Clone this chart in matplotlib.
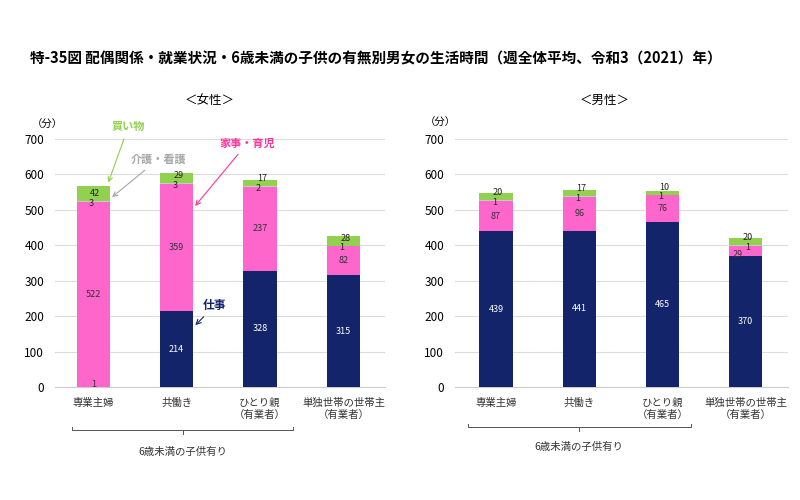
import numpy as np
import matplotlib.pyplot as plt

plt.rcParams['font.family'] = ['Noto Sans CJK JP', 'DejaVu Sans']

cats = ['専業主婦', '共働き', 'ひとり親\n（有業者）', '単独世帯の世帯主\n（有業者）']

# 女性
f_work = [1, 214, 328, 315]
f_house = [522, 359, 237, 82]
f_care = [3, 3, 2, 1]
f_shop = [42, 29, 17, 28]

# 男性
m_work = [439, 441, 465, 370]
m_house = [87, 96, 76, 29]
m_care = [1, 1, 1, 1]
m_shop = [20, 17, 10, 20]

c_work = '#14246b'
c_house = '#ff66cc'
c_care = '#c8c8c8'
c_shop = '#92d050'


def draw(ax, work, house, care, shop, xlim):
    x = np.arange(len(cats))
    w = 0.4
    work = np.array(work)
    house = np.array(house)
    care = np.array(care)
    shop = np.array(shop)
    ax.bar(x, work, w, color=c_work, zorder=3)
    ax.bar(x, house, w, bottom=work, color=c_house, zorder=3)
    ax.bar(x, care, w, bottom=work + house, color=c_care, zorder=3)
    ax.bar(x, shop, w, bottom=work + house + care, color=c_shop, zorder=3)
    fs = 6.5
    for i in x:
        if work[i] > 20:
            ax.text(i, work[i] / 2, str(work[i]), ha='center', va='center',
                    color='white', fontsize=fs, zorder=4)
        else:
            ax.text(i, 6, str(work[i]), ha='center', va='center',
                    color='#333333', fontsize=fs, zorder=4)
        cb = work[i] + house[i]
        small = house[i] < 40
        hx = i - 0.1 if small else i
        ax.text(hx, min(work[i] + house[i] / 2, cb - 24), str(house[i]), ha='center',
                va='center', color='#333333', fontsize=fs, zorder=4)
        cx = i + 0.03 if small else i - 0.02
        ax.text(cx, cb - 4, str(care[i]), ha='center', va='center',
                color='#222222', fontsize=fs, zorder=4)
        sb = cb + care[i]
        ax.text(i + 0.02, max(sb + shop[i] / 2, sb + 21), str(shop[i]), ha='center',
                va='center', color='#222222', fontsize=fs, zorder=4)
    ax.set_ylim(0, 700)
    ax.set_xlim(*xlim)
    ax.set_yticks(range(0, 701, 100))
    ax.set_xticks(x)
    ax.set_xticklabels(cats, fontsize=7.5, color='#333333')
    ax.tick_params(axis='both', length=0, pad=8)
    ax.tick_params(axis='y', labelsize=8.5)
    ax.grid(axis='y', color='#dddddd', linewidth=0.8, zorder=0)
    for s in ['top', 'right', 'left']:
        ax.spines[s].set_visible(False)
    ax.spines['bottom'].set_color('#cccccc')


fig = plt.figure(figsize=(8, 5), dpi=100)
ax1 = fig.add_axes([0.069, 0.226, 0.4125, 0.496])
ax2 = fig.add_axes([0.569, 0.226, 0.416, 0.496])

draw(ax1, f_work, f_house, f_care, f_shop, (-0.456, 3.5))
draw(ax2, m_work, m_house, m_care, m_shop, (-0.49, 3.51))

fig.text(0.47, 0.884, '特-35図 配偶関係・就業状況・6歳未満の子供の有無別男女の生活時間（週全体平均、令和3（2021）年）',
         ha='center', va='center', fontsize=10.5, fontweight='bold')

ax1.text(1.4, 810, '＜女性＞', ha='center', va='center', fontsize=9, clip_on=False)
ax2.text(1.31, 810, '＜男性＞', ha='center', va='center', fontsize=9, clip_on=False)
ax1.text(-0.55, 740, '（分）', ha='center', va='center', fontsize=7.5, clip_on=False)
ax2.text(-0.67, 745, '（分）', ha='center', va='center', fontsize=7.5, clip_on=False)

# annotations (female)
ax1.annotate('買い物', xy=(0.17, 570), xytext=(0.42, 734), color=c_shop, fontsize=8,
             fontweight='bold', ha='center', va='center', annotation_clip=False,
             arrowprops=dict(arrowstyle='->', color=c_shop, lw=0.8))
ax1.annotate('介護・看護', xy=(0.2, 531), xytext=(0.78, 643), color='#a6a6a6', fontsize=8,
             fontweight='bold', ha='center', va='center',
             arrowprops=dict(arrowstyle='->', color='#a6a6a6', lw=0.8))
ax1.annotate('家事・育児', xy=(1.2, 505), xytext=(1.85, 689), color='#ff3399', fontsize=8,
             fontweight='bold', ha='center', va='center',
             arrowprops=dict(arrowstyle='->', color='#ff3399', lw=0.8))
ax1.annotate('仕事', xy=(1.2, 169), xytext=(1.46, 230), color=c_work, fontsize=8.5,
             fontweight='bold', ha='center', va='center',
             arrowprops=dict(arrowstyle='->', color=c_work, lw=0.8))


def bracket(ax, x0, x1, y, label_y):
    xm = (x0 + x1) / 2
    ax.plot([x0, x0, x1, x1], [y + 8, y, y, y + 8], color='#555555', lw=0.7, clip_on=False)
    ax.plot([xm, xm], [y, y - 12], color='#555555', lw=0.7, clip_on=False)
    ax.text(xm, label_y, '6歳未満の子供有り', ha='center', va='center', fontsize=7.5,
            color='#333333', clip_on=False)


bracket(ax1, -0.25, 2.4, -121, -183)
bracket(ax2, -0.34, 2.34, -113, -169)

fig.savefig('out.png', dpi=100)
